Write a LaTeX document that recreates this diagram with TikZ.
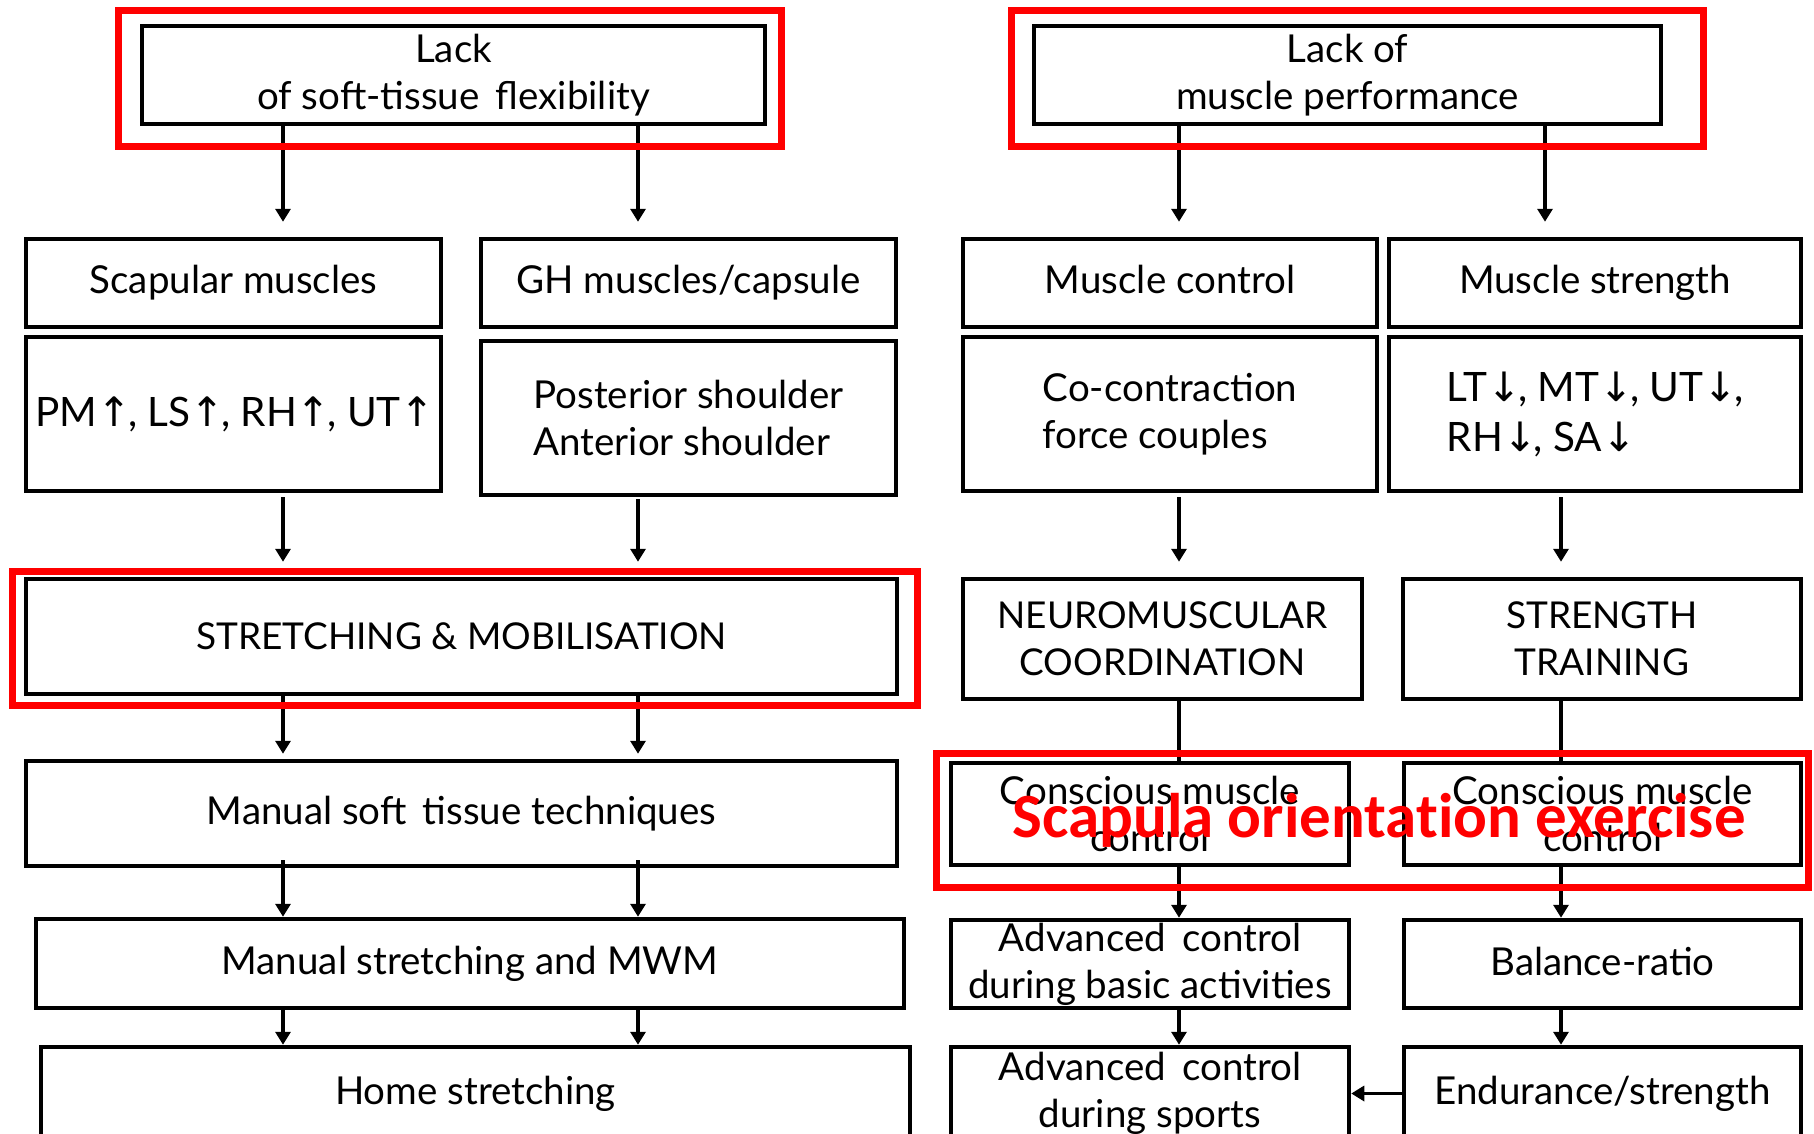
\documentclass[tikz,border=0pt]{standalone}
\usepackage{fontspec}
\setmainfont{Lato}
\newfontfamily\calib[Ligatures=NoCommon]{Carlito}
\newfontfamily\arrfont{DejaVu Sans}
\newcommand\myup{{\arrfont\char"2191}\kern-0.08em}
\newcommand\mydn{{\arrfont\char"2193}\kern-0.08em}
\usetikzlibrary{arrows.meta}
\begin{document}
\begin{tikzpicture}[x=1pt,y=-1pt,
  box/.style={draw=black, line width=4.5pt, fill=white, inner sep=0pt, align=center,
    font=\fontsize{38.5}{47}\selectfont},
  capsbox/.style={box, font=\fontsize{37}{47}\selectfont},
  bigbox/.style={box, font=\fontsize{40.5}{50}\selectfont},
  redbox/.style={draw=red, line width=7pt},
  arr/.style={line width=3.5pt, -{Triangle[length=13pt,width=15pt]}},
  link/.style={line width=3.5pt},
  redtext/.style={text=red, font=\calib\bfseries\fontsize{63}{66}\selectfont, inner sep=0pt}]
\useasboundingbox (0,0) rectangle (1814,1134);
\fill[white] (0,0) rectangle (1814,1134);
% column x positions
\coordinate (ca) at (283,0);
\coordinate (cb) at (638,0);
\coordinate (cc) at (1179,0);
\coordinate (cd) at (1545,0);
\coordinate (ce) at (1561,0);
% left column
\node[box, minimum width=623pt, minimum height=98pt] (lack1) at (453.5,75) {Lack\\of soft-tissue\ \,flexibility};
\node[box, minimum width=415pt, minimum height=88pt] (scap) at (233.5,283) {Scapular muscles};
\node[box, minimum width=415pt, minimum height=88pt] (gh) at (688.5,283) {GH muscles/capsule};
\node[bigbox, minimum width=415pt, minimum height=154pt] (pm) at (233.5,414) {PM\myup, LS\myup, RH\myup, UT\myup};
\node[box, minimum width=415pt, minimum height=154pt, align=left] (post) at (688.5,418) {Posterior shoulder\\Anterior shoulder};
\node[capsbox, minimum width=871pt, minimum height=115pt] (stretch) at (461.5,636.5) {STRETCHING \& MOBILISATION};
\node[box, minimum width=871pt, minimum height=105pt] (soft) at (461.5,813.5) {Manual soft\ \,tissue techniques};
\node[box, minimum width=868pt, minimum height=89pt] (mwm) at (470,963.5) {Manual stretching and MWM};
\node[box, minimum width=869pt, minimum height=93pt] (home) at (475.5,1093.5) {Home stretching};
% right column
\node[box, minimum width=627pt, minimum height=98pt] (lack2) at (1347.5,75) {Lack of\\muscle performance};
\node[box, minimum width=414pt, minimum height=88pt, text depth=8pt] (mc) at (1170,283) {Muscle control};
\node[box, minimum width=412pt, minimum height=88pt] (ms) at (1595,283) {Muscle strength};
\node[box, minimum width=414pt, minimum height=154pt, align=left] (cocon) at (1170,414) {Co-contraction\\force couples};
\node[bigbox, minimum width=412pt, minimum height=154pt, align=left] (lt) at (1595,414) {LT\mydn, MT\mydn, UT\mydn,\\RH\mydn, SA\mydn};
\node[capsbox, minimum width=399pt, minimum height=120pt] (neuro) at (1162.5,639) {NEUROMUSCULAR\\COORDINATION};
\node[capsbox, minimum width=398pt, minimum height=120pt] (strt) at (1602,639) {STRENGTH\\TRAINING};
\node[box, minimum width=398pt, minimum height=102pt] (consl) at (1150,814) {Conscious muscle\\control};
\node[box, minimum width=397pt, minimum height=102pt] (consr) at (1602.5,814) {Conscious muscle\\control};
\node[box, minimum width=398pt, minimum height=88pt] (advb) at (1150,964) {Advanced\ \,control\\during basic activities};
\node[box, minimum width=397pt, minimum height=88pt, text depth=6pt] (bal) at (1602.5,964) {Balance-ratio};
\node[box, minimum width=398pt, minimum height=93pt] (advs) at (1150,1093.5) {Advanced\ \,control\\during sports};
\node[box, minimum width=397pt, minimum height=93pt] (endu) at (1602.5,1093.5) {Endurance/strength};
% connectors
\draw[arr, shorten >=15pt] (lack1.south -| ca) -- (scap.north -| ca);
\draw[arr, shorten >=15pt] (lack1.south -| cb) -- (gh.north -| cb);
\draw[arr, shorten >=15pt] (lack2.south -| cc) -- (mc.north -| cc);
\draw[arr, shorten >=15pt] (lack2.south -| cd) -- (ms.north -| cd);
\draw[arr, shorten <=4pt, shorten >=15pt] (pm.south -| ca) -- (stretch.north -| ca);
\draw[arr, shorten <=2pt, shorten >=15pt] (post.south -| cb) -- (stretch.north -| cb);
\draw[arr, shorten <=4pt, shorten >=15pt] (cocon.south -| cc) -- (neuro.north -| cc);
\draw[arr, shorten <=4pt, shorten >=15pt] (lt.south -| ce) -- (strt.north -| ce);
\draw[arr, shorten >=5pt] (stretch.south -| ca) -- (soft.north -| ca);
\draw[arr, shorten >=5pt] (stretch.south -| cb) -- (soft.north -| cb);
\draw[arr, shorten <=-8pt] (soft.south -| ca) -- (mwm.north -| ca);
\draw[arr, shorten <=-8pt] (soft.south -| cb) -- (mwm.north -| cb);
\draw[arr] (mwm.south -| ca) -- (home.north -| ca);
\draw[arr] (mwm.south -| cb) -- (home.north -| cb);
\draw[link] (neuro.south -| cc) -- (consl.north -| cc);
\draw[link] (strt.south -| ce) -- (consr.north -| ce);
\draw[arr] (consl.south -| cc) -- (advb.north -| cc);
\draw[arr] (consr.south -| ce) -- (bal.north -| ce);
\draw[arr] (advb.south -| cc) -- (advs.north -| cc);
\draw[arr] (bal.south -| ce) -- (endu.north -| ce);
\draw[arr] (endu.west) -- (advs.east);
% red highlight frames
\draw[redbox] (118,11) rectangle (781,147);
\draw[redbox] (1011.5,11) rectangle (1703.5,147);
\draw[redbox] (12.5,571.5) rectangle (917.5,705.5);
\draw[redbox] (936.5,753.5) rectangle (1808.5,887.5);
\node[redtext, anchor=base] (rt) at (1379,837) {Scapula orientation exercise};
\end{tikzpicture}
\end{document}
